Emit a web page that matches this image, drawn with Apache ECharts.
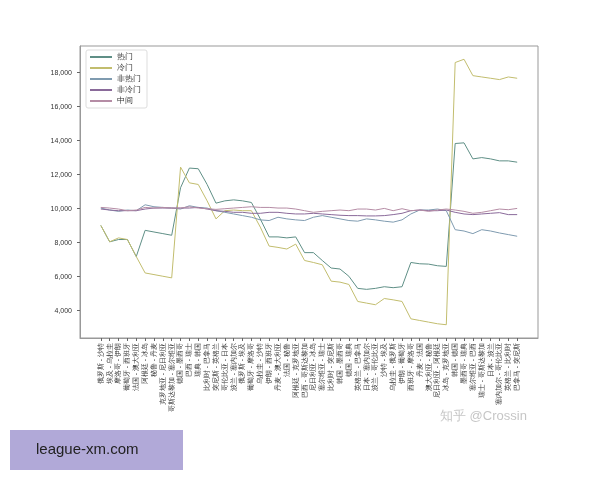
<!DOCTYPE html>
<html><head><meta charset="utf-8">
<script src="https://cdn.jsdelivr.net/npm/echarts@6/dist/echarts.min.js"></script>
<style>html,body{margin:0;padding:0;background:#fff}#c{width:600px;height:480px}</style>
</head><body><div id="c"></div>
<script>
const categories = ["俄罗斯 - 沙特","埃及 - 乌拉圭","摩洛哥 - 伊朗","葡萄牙 - 西班牙","法国 - 澳大利亚","阿根廷 - 冰岛","秘鲁 - 丹麦","克罗地亚 - 尼日利亚","哥斯达黎加 - 塞尔维亚","德国 - 墨西哥","巴西 - 瑞士","瑞典 - 韩国","比利时 - 巴拿马","突尼斯 - 英格兰","哥伦比亚 - 日本","波兰 - 塞内加尔","俄罗斯 - 埃及","葡萄牙 - 摩洛哥","乌拉圭 - 沙特","伊朗 - 西班牙","丹麦 - 澳大利亚","法国 - 秘鲁","阿根廷 - 克罗地亚","巴西 - 哥斯达黎加","尼日利亚 - 冰岛","塞尔维亚 - 瑞士","比利时 - 突尼斯","韩国 - 墨西哥","德国 - 瑞典","英格兰 - 巴拿马","日本 - 塞内加尔","波兰 - 哥伦比亚","沙特 - 埃及","乌拉圭 - 俄罗斯","伊朗 - 葡萄牙","西班牙 - 摩洛哥","丹麦 - 法国","澳大利亚 - 秘鲁","尼日利亚 - 阿根廷","冰岛 - 克罗地亚","韩国 - 德国","墨西哥 - 瑞典","塞尔维亚 - 巴西","瑞士 - 哥斯达黎加","日本 - 波兰","塞内加尔 - 哥伦比亚","英格兰 - 比利时","巴拿马 - 突尼斯"];
const hot = [9016,8052,8187,8187,7185,8727,8630,8534,8437,11233,12390,12351,11426,10327,10462,10520,10462,10366,9401,8341,8341,8283,8341,7416,7416,6953,6510,6452,6027,5314,5256,5314,5410,5353,5410,6837,6760,6741,6645,6606,13836,13874,12930,13007,12930,12814,12814,12737];
const cold = [9016,8052,8283,8187,7185,6220,6124,6027,5931,12447,11522,11426,10462,9401,9883,9922,9883,9883,8919,7801,7724,7628,7917,6953,6837,6702,5738,5681,5545,4543,4447,4350,4717,4639,4543,3521,3425,3328,3232,3174,18598,18791,17827,17750,17673,17595,17750,17673];
const nonHot = [10038,9922,9845,9922,9883,10230,10115,10076,10038,9980,10173,10076,10038,9883,9787,9691,9594,9498,9343,9304,9498,9401,9343,9304,9498,9594,9498,9401,9304,9266,9401,9343,9266,9209,9343,9691,9922,9922,9980,9883,8765,8688,8534,8765,8688,8573,8476,8380];
const nonCold = [9980,9922,9883,9883,9883,9980,10038,10038,10038,10038,10038,10076,9980,9883,9845,9787,9787,9729,9729,9787,9787,9729,9691,9691,9729,9691,9652,9614,9594,9594,9575,9575,9594,9652,9729,9883,9922,9883,9883,9922,9787,9691,9652,9691,9729,9768,9652,9652];
const middle = [10076,10038,9980,9883,9922,10076,10038,10076,10038,10038,10115,10038,9999,9960,9999,10038,10076,10115,10076,10076,10038,10038,9980,9883,9787,9845,9883,9922,9883,9980,9980,9922,10018,9883,9999,9883,9922,9845,9922,9980,9922,9845,9729,9787,9883,9980,9941,10018];
const yTicks = [4000,6000,8000,10000,12000,14000,16000,18000];
const names = ["热门","冷门","非热门","非冷门","中间"];
const colors = ["#5f8f86","#c2bd6e","#7f9bb0","#8a6a9a","#b58ca5"];
const seriesData = [hot, cold, nonHot, nonCold, middle];
const xIdx = categories.map((_, i) => i);
const chart = echarts.init(document.getElementById('c'));
chart.setOption({
  animation: false,
  legend: {left: 86, top: 50, orient: 'vertical', itemWidth: 22, itemHeight: 2, itemGap: 3,
    textStyle: {fontSize: 8, color: '#333'}, borderColor: '#ddd', borderWidth: 1, borderRadius: 2, padding: [3,6,3,4],
    data: names.map((n, i) => ({name: n, icon: 'rect', itemStyle: {color: colors[i]}}))},
  grid: {left: 80, right: 62, top: 46, bottom: 142},
  xAxis: {type: 'value', min: -2.35, max: 49.35,
    axisLine: {onZero: false, lineStyle: {color: '#999'}},
    axisTick: {customValues: xIdx, length: 3, lineStyle: {color: '#666'}},
    axisLabel: {customValues: xIdx, rotate: 90, fontSize: 7, color: '#333', margin: 5,
      formatter: v => categories[Math.round(v)]},
    splitLine: {show: false}},
  yAxis: {type: 'value', min: 2394, max: 19571,
    axisLine: {show: true, onZero: false, lineStyle: {color: '#999'}},
    axisTick: {show: true, customValues: yTicks, length: 3, lineStyle: {color: '#666'}},
    axisLabel: {customValues: yTicks, fontSize: 7, color: '#333'},
    splitLine: {show: false}},
  graphic: [
    {type: 'rect', shape: {x: 80, y: 46, width: 458, height: 292}, style: {fill: 'none', stroke: '#999', lineWidth: 1}, silent: true},
    {type: 'text', left: 440, top: 410, style: {text: '知乎 @Crossin', fontSize: 13, fill: 'rgba(150,150,150,0.55)'}},
    {type: 'rect', shape: {x: 10, y: 430, width: 173, height: 40}, style: {fill: '#b1a9d8'}},
    {type: 'text', left: 36, top: 442, style: {text: 'league-xm.com', fontSize: 15, fill: '#222'}}
  ],
  series: seriesData.map((d, i) => ({name: names[i], type: 'line', data: d.map((v, j) => [j, v]),
    showSymbol: false, lineStyle: {width: 1, color: colors[i]}, itemStyle: {color: colors[i]}}))
});
</script></body></html>
